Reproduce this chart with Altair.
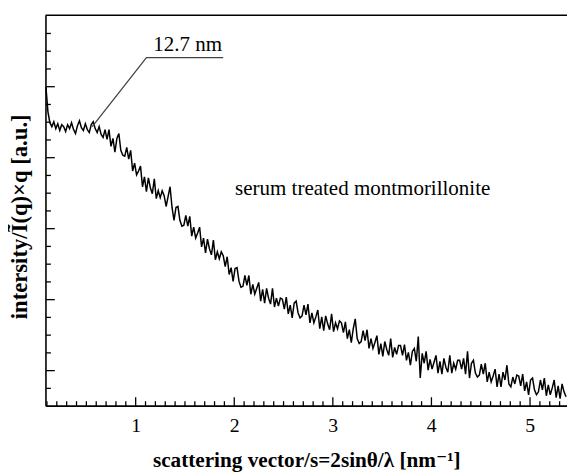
import altair as alt
import pandas as pd

SERIF = "Liberation Serif, Times New Roman, DejaVu Serif, serif"

# scattering vector s [nm^-1]
q = [
    0.09, 0.11, 0.13, 0.15, 0.17, 0.19, 0.21, 0.23, 0.25, 0.27,
    0.29, 0.31, 0.33, 0.35, 0.37, 0.39, 0.41, 0.43, 0.45, 0.47,
    0.49, 0.51, 0.53, 0.55, 0.57, 0.59, 0.61, 0.63, 0.65, 0.67,
    0.69, 0.71, 0.73, 0.75, 0.77, 0.79, 0.81, 0.83, 0.85, 0.87,
    0.89, 0.91, 0.93, 0.95, 0.97, 0.99, 1.01, 1.03, 1.05, 1.07,
    1.09, 1.11, 1.13, 1.15, 1.17, 1.19, 1.21, 1.23, 1.25, 1.27,
    1.29, 1.31, 1.33, 1.35, 1.37, 1.39, 1.41, 1.43, 1.45, 1.47,
    1.49, 1.51, 1.53, 1.55, 1.57, 1.59, 1.61, 1.63, 1.65, 1.67,
    1.69, 1.71, 1.73, 1.75, 1.77, 1.79, 1.81, 1.83, 1.85, 1.87,
    1.89, 1.91, 1.93, 1.95, 1.97, 1.99, 2.01, 2.03, 2.05, 2.07,
    2.09, 2.11, 2.13, 2.15, 2.17, 2.19, 2.21, 2.23, 2.25, 2.27,
    2.29, 2.31, 2.33, 2.35, 2.37, 2.39, 2.41, 2.43, 2.45, 2.47,
    2.49, 2.51, 2.53, 2.55, 2.57, 2.59, 2.61, 2.63, 2.65, 2.67,
    2.69, 2.71, 2.73, 2.75, 2.77, 2.79, 2.81, 2.83, 2.85, 2.87,
    2.89, 2.91, 2.93, 2.95, 2.97, 2.99, 3.01, 3.03, 3.05, 3.07,
    3.09, 3.11, 3.13, 3.15, 3.17, 3.19, 3.21, 3.23, 3.25, 3.27,
    3.29, 3.31, 3.33, 3.35, 3.37, 3.39, 3.41, 3.43, 3.45, 3.47,
    3.49, 3.51, 3.53, 3.55, 3.57, 3.59, 3.61, 3.63, 3.65, 3.67,
    3.69, 3.71, 3.73, 3.75, 3.77, 3.79, 3.81, 3.83, 3.85, 3.87,
    3.89, 3.91, 3.93, 3.95, 3.97, 3.99, 4.01, 4.03, 4.05, 4.07,
    4.09, 4.11, 4.13, 4.15, 4.17, 4.19, 4.21, 4.23, 4.25, 4.27,
    4.29, 4.31, 4.33, 4.35, 4.37, 4.39, 4.41, 4.43, 4.45, 4.47,
    4.49, 4.51, 4.53, 4.55, 4.57, 4.59, 4.61, 4.63, 4.65, 4.67,
    4.69, 4.71, 4.73, 4.75, 4.77, 4.79, 4.81, 4.83, 4.85, 4.87,
    4.89, 4.91, 4.93, 4.95, 4.97, 4.99, 5.01, 5.03, 5.05, 5.07,
    5.09, 5.11, 5.13, 5.15, 5.17, 5.19, 5.21, 5.23, 5.25, 5.27,
    5.29, 5.31, 5.33, 5.35, 5.37,
]

# intensity (arbitrary units)
intensity = [
    323, 298, 287, 283, 288, 281, 286, 279, 285, 283,
    278, 285, 281, 287, 280, 276, 284, 289, 282, 279,
    286, 280, 277, 285, 288, 281, 277, 283, 275, 272,
    280, 270, 280, 263, 271, 257, 271, 276, 259, 254,
    253, 262, 250, 259, 238, 246, 234, 238, 243, 222,
    232, 217, 231, 221, 215, 230, 210, 218, 211, 218,
    213, 202, 212, 222, 201, 188, 201, 202, 188, 182,
    183, 193, 182, 192, 172, 181, 170, 175, 181, 161,
    170, 155, 169, 159, 153, 168, 148, 156, 149, 156,
    152, 141, 151, 133, 140, 126, 139, 140, 126, 120,
    121, 132, 122, 132, 113, 123, 113, 119, 125, 106,
    118, 104, 119, 109, 103, 119, 100, 109, 101, 109,
    108, 98, 110, 93, 102, 89, 104, 106, 94, 89,
    91, 102, 92, 103, 84, 94, 84, 90, 97, 78,
    90, 76, 91, 83, 77, 93, 75, 84, 78, 86,
    84, 74, 85, 68, 77, 64, 78, 88, 68, 63,
    65, 76, 66, 77, 58, 68, 58, 64, 71, 52,
    63, 50, 65, 57, 51, 68, 49, 59, 52, 61,
    61, 51, 62, 46, 54, 41, 55, 58, 45, 70,
    28, 53, 43, 55, 36, 47, 37, 44, 51, 33,
    45, 32, 48, 39, 34, 51, 33, 43, 37, 46,
    46, 37, 48, 32, 55, 28, 43, 46, 33, 29,
    31, 42, 32, 43, 24, 34, 24, 30, 37, 19,
    32, 19, 34, 26, 41, 22, 19, 29, 22, 31,
    30, 20, 32, 15, 24, 11, 26, 28, 16, 11,
    14, 26, 16, 28, 10, 21, 11, 18, 26, 8,
    20, 7, 22, 14, 9,
]

x_labels = [1, 2, 3, 4, 5]
x_minor = [round(0.1 * k, 1) for k in range(1, 54)]
y_ticks = [18 * k for k in range(1, 22)]

x_domain = [0.085, 5.38]
y_domain = [0, 396]

ann_q = [0.56, 1.11, 1.89]
ann_I = [283, 353, 353]
ann_order = [0, 1, 2]

text_q = [1.18, 2.01]
text_I = [360, 214]
text_t = ["12.7 nm", "serum treated montmorillonite"]

x_scale = alt.Scale(domain=x_domain, nice=False, zero=False)
y_scale = alt.Scale(domain=y_domain, nice=False, zero=False)

df = pd.DataFrame({"q": q, "I": intensity})
ann = pd.DataFrame({"q": ann_q, "I": ann_I, "o": ann_order})
txt = pd.DataFrame({"q": text_q, "I": text_I, "t": text_t})
top = pd.DataFrame({"x0": [x_domain[0]], "x1": [x_domain[1]], "yt": [y_domain[1]]})

curve = alt.Chart(df).mark_line(color="black", strokeWidth=1.5).encode(
    x=alt.X("q:Q", scale=x_scale, axis=alt.Axis(
        orient="bottom", values=x_labels, ticks=False, tickSize=0,
        domain=True, domainColor="black", domainWidth=1.6,
        labelFont=SERIF, labelFontSize=20, labelColor="black", labelPadding=10,
        labelFlush=False,
        title="scattering vector/s=2sinθ/λ [nm⁻¹]", titleFont=SERIF,
        titleFontSize=21.5, titleFontWeight="bold", titleColor="black",
        titlePadding=15)),
    y=alt.Y("I:Q", scale=y_scale, axis=alt.Axis(
        orient="left", labels=False, ticks=False, tickSize=0,
        domain=True, domainColor="black", domainWidth=1.6,
        title="intersity/Ĩ(q)×q [a.u.]", titleFont=SERIF, titleFontSize=23,
        titleFontWeight="bold", titleColor="black", titlePadding=14,
        titleY=204)),
)

pointer = alt.Chart(ann).mark_line(color="#444444", strokeWidth=1.3).encode(
    x=alt.X("q:Q", scale=x_scale, axis=alt.Axis(
        orient="top", offset=-396, values=x_minor, labels=False, domain=False,
        tickColor="black", tickWidth=1.3,
        tickSize={"condition": {"test": "abs(datum.value - round(datum.value)) < 0.001", "value": 9}, "value": 5},
        title=None)),
    y=alt.Y("I:Q", scale=y_scale, axis=alt.Axis(
        orient="right", offset=-529, values=y_ticks, labels=False, domain=False,
        tickColor="black", tickWidth=1.3,
        tickSize={"condition": {"test": "(datum.value - 36) % 72 == 0", "value": 9}, "value": 5},
        title=None)),
    order="o:O",
)

labels = alt.Chart(txt).mark_text(
    align="left", baseline="alphabetic", font=SERIF, fontSize=21.3, color="black"
).encode(
    x=alt.X("q:Q", scale=x_scale, axis=None),
    y=alt.Y("I:Q", scale=y_scale, axis=None),
    text="t:N",
)

frame_top = alt.Chart(top).mark_rule(color="black", strokeWidth=1.6).encode(
    x=alt.X("x0:Q", scale=x_scale, axis=None),
    x2="x1:Q",
    y=alt.Y("yt:Q", scale=y_scale, axis=None),
)

chart = alt.layer(curve, pointer, labels, frame_top).properties(
    width=529, height=396,
    padding={"left": 38, "top": 4, "right": 0, "bottom": 65},
    autosize="none",
).configure_view(stroke=None).configure_axis(grid=False)

chart.save("out.html", embed_options={"renderer": "svg", "actions": False})
